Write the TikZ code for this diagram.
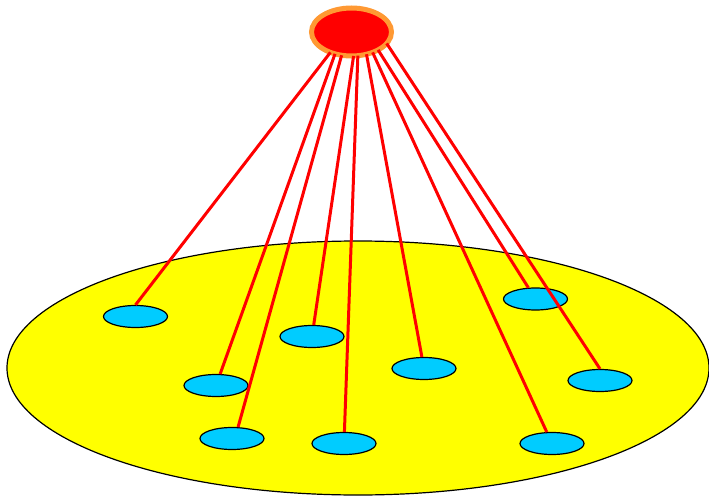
\documentclass[tikz,border=0pt]{standalone}
\usetikzlibrary{shapes.geometric}
\definecolor{plate}{RGB}{255,255,0}
\definecolor{leafc}{RGB}{0,204,255}
\definecolor{ring}{RGB}{255,153,51}
\definecolor{hub}{RGB}{255,0,0}
\begin{document}
\begin{tikzpicture}[x=1pt,y=-1pt,
  leaf/.style={ellipse,draw=black,line width=1.2pt,fill=leafc,minimum width=64pt,minimum height=22pt,inner sep=0pt},
  root/.style={ellipse,draw=ring,line width=5pt,fill=hub,minimum width=80pt,minimum height=48pt,inner sep=0pt,outer sep=0pt},
  link/.style={draw=hub,line width=3pt}]
\useasboundingbox (0,0) rectangle (709,495);
\fill[plate] (358,368) ellipse [x radius=351, y radius=127];
\draw[black,line width=1.2pt] (358,368) ellipse [x radius=351, y radius=127];
\node[root] (r) at (351.5,32) {};
\node[leaf] (a) at (135.5,316.5) {};
\node[leaf] (b) at (216,385.5) {};
\node[leaf] (c) at (232,438.5) {};
\node[leaf] (d) at (312,336.5) {};
\node[leaf] (e) at (344,443.5) {};
\node[leaf] (f) at (424,368.5) {};
\node[leaf] (g) at (535.5,299) {};
\node[leaf] (h) at (600,380.5) {};
\node[leaf] (i) at (552,443.5) {};
\foreach \ang/\tgt in {224.7/a.north,233.5/b,247/c.62,275/d,285.8/e,304.7/f,316.9/i,326.4/g,342.3/h.north}{\draw[link] (r.\ang) -- (\tgt);}
\end{tikzpicture}
\end{document}
